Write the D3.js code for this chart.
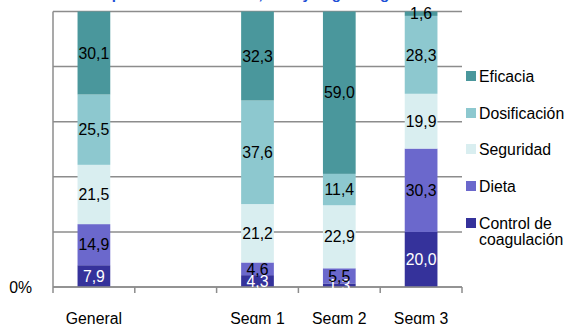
<!DOCTYPE html>
<html>
<head>
<meta charset="utf-8">
<script src="https://cdn.jsdelivr.net/npm/d3@7"></script>
<style>
  html, body { margin: 0; padding: 0; background: #fff; }
  svg { display: block; font-family: "Liberation Sans", Arial, Helvetica, sans-serif; }
</style>
</head>
<body>
<svg id="chart" width="565" height="324"></svg>
<script>
// Category slots (the second slot is intentionally left empty)
const categories = ["General", "", "Segm 1", "Segm 2", "Segm 3"];
const barCategories = ["General", "Segm 1", "Segm 2", "Segm 3"];

// Series values, one per bar category, from bottom to top of the stack
const controlCoagulacion = [7.9, 4.3, 1.3, 20.0];
const dieta = [14.9, 4.6, 5.5, 30.3];
const seguridad = [21.5, 21.2, 22.9, 19.9];
const dosificacion = [25.5, 37.6, 11.4, 28.3];
const eficacia = [30.1, 32.3, 59.0, 1.6];

const seriesNames = ["Control de coagulación", "Dieta", "Seguridad", "Dosificación", "Eficacia"];
const seriesValues = [controlCoagulacion, dieta, seguridad, dosificacion, eficacia];
const seriesColors = ["#35329b", "#6b68cc", "#d9eef0", "#8dc8cf", "#4a979c"];
const labelColors = ["#ffffff", "#000000", "#000000", "#000000", "#000000"];

const yTicks = [0, 0.2, 0.4, 0.6, 0.8, 1];
const yTickLabels = ["0%"];

const titleText = "Distribución por área de atención, total y según segmento";

const svg = d3.select("#chart");
const plotLeft = 53, plotRight = 462, plotTop = 11.5, plotBottom = 287;
const fontSize = 15.8;

const x = d3.scaleBand().domain(categories).range([plotLeft, plotRight])
  .paddingInner(0.6).paddingOuter(0.3);
const y = d3.scaleLinear().domain([0, 1]).range([plotBottom, plotTop]);
const color = d3.scaleOrdinal().domain(seriesNames).range(seriesColors);

// Rows for the stack layout
const rows = barCategories.map((c, i) => {
  const r = { cat: c };
  seriesNames.forEach((s, k) => { r[s] = seriesValues[k][i]; });
  return r;
});
const stacked = d3.stack().keys(seriesNames).offset(d3.stackOffsetExpand)(rows);

// Title (sits mostly above the visible area)
svg.append("text")
  .attr("x", 20).attr("y", -1)
  .attr("font-size", 15).attr("font-weight", "bold")
  .attr("fill", "#1d4fd6")
  .text(titleText);

// Horizontal gridlines
svg.append("g").selectAll("line").data(yTicks).join("line")
  .attr("x1", plotLeft).attr("x2", plotRight)
  .attr("y1", d => y(d)).attr("y2", d => y(d))
  .attr("stroke", "#8c8c8c").attr("stroke-width", 1.5);

// Left axis line
svg.append("line")
  .attr("x1", plotLeft).attr("x2", plotLeft).attr("y1", plotTop).attr("y2", plotBottom)
  .attr("stroke", "#8c8c8c").attr("stroke-width", 1.5);

// Stacked bars
const layers = svg.append("g").selectAll("g").data(stacked).join("g")
  .attr("fill", d => color(d.key));
layers.selectAll("rect").data(d => d).join("rect")
  .attr("x", d => x(d.data.cat))
  .attr("width", x.bandwidth())
  .attr("y", d => y(d[1]))
  .attr("height", d => y(d[0]) - y(d[1]));

// Bottom axis line with ticks at slot boundaries
svg.append("line")
  .attr("x1", plotLeft).attr("x2", plotRight).attr("y1", plotBottom).attr("y2", plotBottom)
  .attr("stroke", "#8c8c8c").attr("stroke-width", 1.5);
const boundaries = d3.range(categories.length + 1).map(i => plotLeft + i * x.step());
svg.append("g").selectAll("line").data(boundaries).join("line")
  .attr("x1", d => d).attr("x2", d => d)
  .attr("y1", plotBottom).attr("y2", plotBottom + 6)
  .attr("stroke", "#8c8c8c").attr("stroke-width", 1.5);

// Value labels
const fmt = v => v.toFixed(1).replace(".", ",");
stacked.forEach((layer, k) => {
  svg.append("g").selectAll("text").data(layer).join("text")
    .attr("x", d => x(d.data.cat) + x.bandwidth() / 2)
    .attr("y", d => (y(d[0]) + y(d[1])) / 2)
    .attr("dy", "0.36em")
    .attr("text-anchor", "middle")
    .attr("font-size", fontSize)
    .attr("fill", labelColors[k])
    .text(d => fmt(d.data[layer.key]));
});

// Y label
svg.append("g").selectAll("text").data(yTickLabels).join("text")
  .attr("x", 32).attr("y", y(0)).attr("dy", "0.36em")
  .attr("text-anchor", "end").attr("font-size", fontSize).attr("fill", "#000")
  .text(d => d);

// Category labels
svg.append("g").selectAll("text").data(barCategories).join("text")
  .attr("x", d => x(d) + x.bandwidth() / 2)
  .attr("y", 324)
  .attr("text-anchor", "middle").attr("font-size", fontSize).attr("fill", "#000")
  .text(d => d);

// Legend (top to bottom: last series first)
const legendRows = seriesNames.slice().reverse();
const legendY = [76, 113, 149, 186, 223];
const legend = svg.append("g");
legendRows.forEach((name, i) => {
  const g = legend.append("g").attr("transform", `translate(466,${legendY[i]})`);
  g.append("rect").attr("x", 0).attr("y", -5).attr("width", 10).attr("height", 10)
    .attr("fill", color(name));
  const lines = name === "Control de coagulación" ? ["Control de", "coagulación"] : [name];
  lines.forEach((t, j) => {
    g.append("text").attr("x", 13).attr("y", j * 16).attr("dy", "0.36em")
      .attr("font-size", fontSize).attr("fill", "#000").text(t);
  });
});
</script>
</body>
</html>
